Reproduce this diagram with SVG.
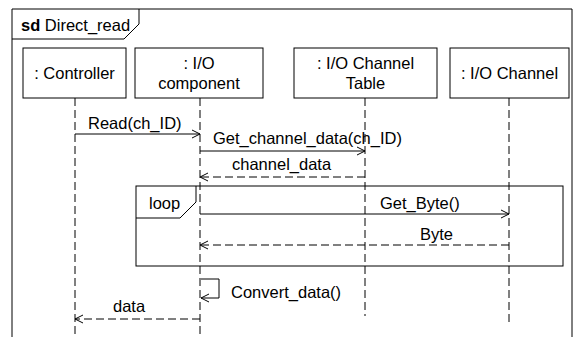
<svg xmlns="http://www.w3.org/2000/svg" width="579" height="337" viewBox="0 0 579 337">
<style>
text{font-family:"Liberation Sans",Arial,sans-serif;font-size:16.5px;fill:#000}
.box{fill:#fff;stroke:#000;stroke-width:1}
.life{stroke:#000;stroke-width:1;stroke-dasharray:8 4;fill:none}
.msg{stroke:#000;stroke-width:1;fill:none}
.ret{stroke:#000;stroke-width:1;stroke-dasharray:8 4;fill:none}
.frame{fill:none;stroke:#000;stroke-width:1}
.mid{text-anchor:middle}
</style>
<defs>
<marker id="open" markerWidth="10" markerHeight="10" refX="9" refY="5" orient="auto" markerUnits="userSpaceOnUse">
<path d="M1,1 L9,5 L1,9" fill="none" stroke="#000" stroke-width="1"/>
</marker>
</defs>
<rect width="579" height="337" fill="#fff"/>
<g id="frame">
<path class="frame" d="M12,345 L12,9 L572,9 L572,345"/>
<path class="frame" d="M12,39 L124,39 L139,24 L139,9"/>
<text x="21" y="31"><tspan font-weight="bold">sd</tspan> Direct_read</text>
</g>
<g id="lifelines">
<line class="life" x1="75" y1="98" x2="75" y2="340"/>
<line class="life" x1="200" y1="98" x2="200" y2="340"/>
<line class="life" x1="365" y1="98" x2="365" y2="316"/>
<line class="life" x1="509" y1="98" x2="509" y2="322"/>
</g>
<g id="controller">
<rect class="box" x="23" y="48" width="103" height="50"/>
<text class="mid" x="74.5" y="79">: Controller</text>
</g>
<g id="io_component">
<rect class="box" x="135" y="48" width="128" height="50"/>
<text class="mid" x="199" y="69">: I/O</text>
<text class="mid" x="199" y="89">component</text>
</g>
<g id="io_channel_table">
<rect class="box" x="294" y="48" width="143" height="50"/>
<text class="mid" x="365.5" y="69">: I/O Channel</text>
<text class="mid" x="365.5" y="89">Table</text>
</g>
<g id="io_channel">
<rect class="box" x="450" y="48" width="119" height="50"/>
<text class="mid" x="509.5" y="79">: I/O Channel</text>
</g>
<g id="loop">
<rect class="frame" x="136" y="186" width="427" height="80"/>
<path class="frame" d="M136,218 L180,218 L196,202 L196,186"/>
<text x="149" y="209">loop</text>
</g>
<g id="connectors">
<line class="msg" x1="75" y1="134" x2="200" y2="134" marker-end="url(#open)"/>
<text x="88" y="129">Read(ch_ID)</text>
<line class="msg" x1="200" y1="151" x2="365" y2="151" marker-end="url(#open)"/>
<text x="213" y="144">Get_channel_data(ch_ID)</text>
<line class="ret" x1="365" y1="177" x2="200" y2="177" marker-end="url(#open)"/>
<text x="232" y="170">channel_data</text>
<line class="msg" x1="200" y1="214" x2="509" y2="214" marker-end="url(#open)"/>
<text x="380" y="209">Get_Byte()</text>
<line class="ret" x1="509" y1="245" x2="200" y2="245" marker-end="url(#open)"/>
<text x="420" y="240">Byte</text>
<path class="msg" d="M201,279 L219,279 L219,298 L201,298" marker-end="url(#open)"/>
<text x="231" y="298">Convert_data()</text>
<line class="ret" x1="200" y1="319" x2="75" y2="319" marker-end="url(#open)"/>
<text x="113" y="312">data</text>
</g>
</svg>
